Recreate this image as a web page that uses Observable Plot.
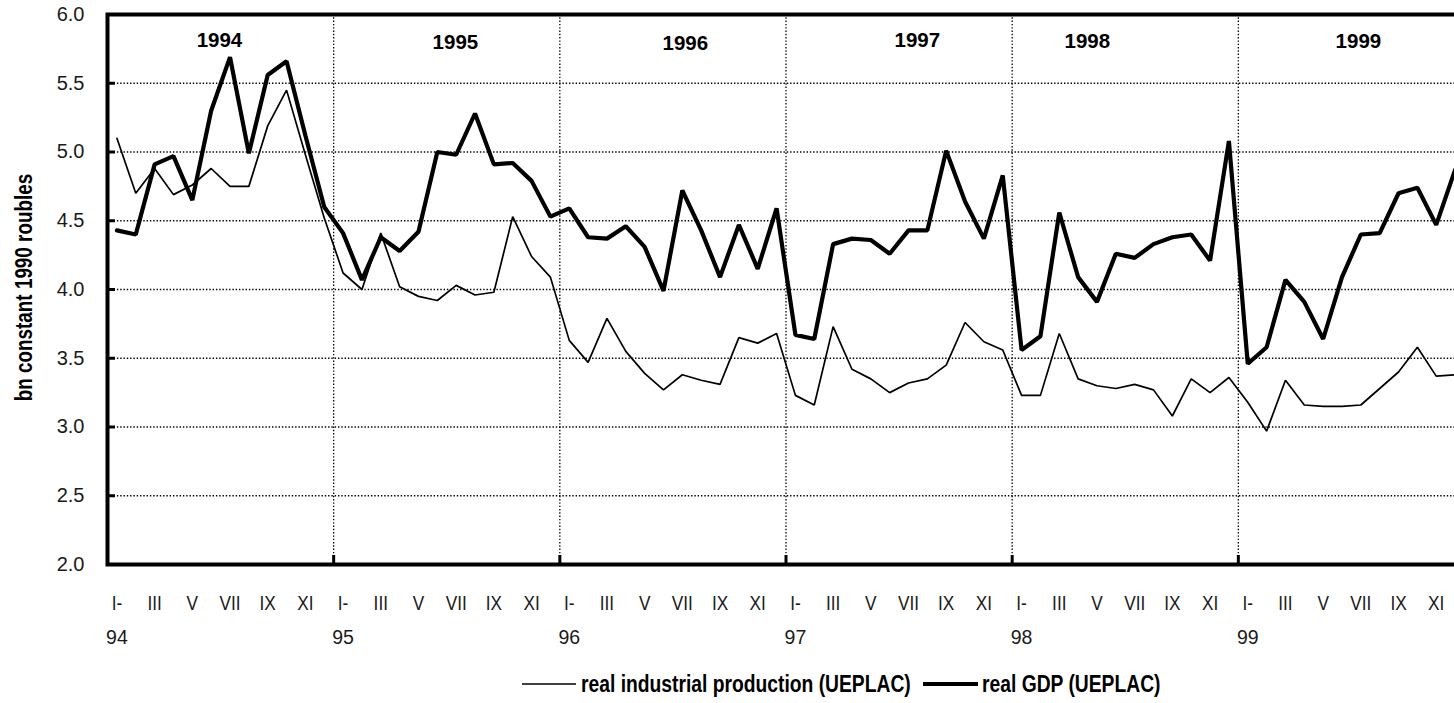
<!DOCTYPE html>
<html>
<head>
<meta charset="utf-8">
<script src="https://cdn.jsdelivr.net/npm/d3@7"></script>
<script src="https://cdn.jsdelivr.net/npm/@observablehq/plot@0.6"></script>
<style>
  html, body { margin: 0; padding: 0; background: #fff; overflow: hidden; }
  #chart svg { display: block; }
  #legend { position: relative; height: 38px; font-family: "Liberation Sans", Arial, sans-serif; font-weight: bold; font-size: 23.5px; color: #000; }
  #legend .swatch { position: absolute; top: 14px; }
  #legend .label { position: absolute; top: 0; height: 38px; line-height: 38px; white-space: nowrap; transform: scaleX(0.82); transform-origin: left center; }
</style>
</head>
<body>
<div id="chart"></div>
<div id="legend"></div>
<script>
// ---- data (monthly, Jan 1994 .. Dec 1999), bn constant 1990 roubles ----
const gdp = [
  4.43, 4.40, 4.91, 4.97, 4.65, 5.30, 5.69, 4.99, 5.56, 5.66, 5.12, 4.60,
  4.41, 4.07, 4.38, 4.28, 4.42, 5.00, 4.98, 5.28, 4.91, 4.92, 4.79, 4.53,
  4.59, 4.38, 4.37, 4.46, 4.31, 3.99, 4.72, 4.43, 4.09, 4.47, 4.15, 4.59,
  3.67, 3.64, 4.33, 4.37, 4.36, 4.26, 4.43, 4.43, 5.01, 4.64, 4.37, 4.83,
  3.56, 3.66, 4.56, 4.09, 3.91, 4.26, 4.23, 4.33, 4.38, 4.40, 4.21, 5.08,
  3.46, 3.58, 4.07, 3.91, 3.64, 4.09, 4.40, 4.41, 4.70, 4.74, 4.47, 4.87
];
const industry = [
  5.10, 4.70, 4.88, 4.69, 4.76, 4.88, 4.75, 4.75, 5.19, 5.45, 4.98, 4.52,
  4.12, 4.00, 4.41, 4.02, 3.95, 3.92, 4.03, 3.96, 3.98, 4.53, 4.24, 4.09,
  3.63, 3.47, 3.79, 3.55, 3.39, 3.27, 3.38, 3.34, 3.31, 3.65, 3.61, 3.68,
  3.23, 3.16, 3.73, 3.42, 3.35, 3.25, 3.32, 3.35, 3.45, 3.76, 3.62, 3.56,
  3.23, 3.23, 3.68, 3.35, 3.30, 3.28, 3.31, 3.27, 3.08, 3.35, 3.25, 3.36,
  3.18, 2.97, 3.34, 3.16, 3.15, 3.15, 3.16, 3.28, 3.40, 3.58, 3.37, 3.38
];
const yearNames = ["1994", "1995", "1996", "1997", "1998", "1999"];
// year-label anchors in data coordinates (month index, value)
const yearLabelMonth = [5.94, 18.46, 30.66, 42.97, 51.99, 66.37];
const yearLabelValue = [5.815, 5.80, 5.79, 5.81, 5.807, 5.807];
const yearShort = ["94", "95", "96", "97", "98", "99"];
const monthNumerals = ["I-", "III", "V", "VII", "IX", "XI"];
const yTicks = [2.0, 2.5, 3.0, 3.5, 4.0, 4.5, 5.0, 5.5, 6.0];
const yearBoundaries = [12, 24, 36, 48, 60];
const yLabel = "bn constant 1990 roubles";
const seriesNames = ["real industrial production (UEPLAC)", "real GDP (UEPLAC)"];

// ---- tables built from the arrays ----
const rows = gdp.map((v, i) => ({t: i + 0.5, gdp: v, ind: industry[i]}));
const monthRows = [];
yearShort.forEach((_, y) => monthNumerals.forEach((m, k) => monthRows.push({t: y * 12 + k * 2 + 0.5, label: m})));
const yearRows = yearShort.map((s, i) => ({t: i * 12 + 0.5, label: s}));
const yearTitleRows = yearNames.map((s, i) => ({t: yearLabelMonth[i], v: yearLabelValue[i], label: s}));

const dotted = {stroke: "#000", strokeOpacity: 1, strokeWidth: 1.3, strokeDasharray: "1.4,1.9"};

const chart = Plot.plot({
  width: 1454,
  height: 665,
  marginLeft: 107,
  marginRight: -10,
  marginTop: 14,
  marginBottom: 101,
  style: {fontFamily: "Liberation Sans, Arial, sans-serif", fontSize: "20px", color: "#000", background: "#fff"},
  x: {domain: [0, 72]},
  y: {domain: [2, 6]},
  marks: [
    Plot.gridY(yTicks.slice(1, -1), dotted),
    Plot.gridX(yearBoundaries, dotted),
    Plot.axisY(yTicks, {tickSize: 0, tickPadding: 23, tickFormat: d => d.toFixed(1), fontSize: 20, fill: "#1a1a1a", label: null}),
    Plot.axisY(yTicks, {tickSize: -8, strokeWidth: 3, tickFormat: () => "", label: null}),
    Plot.axisX(yearBoundaries, {tickSize: -9, strokeWidth: 3, tickFormat: () => "", label: null}),
    Plot.text(monthRows, {x: "t", text: "label", frameAnchor: "bottom", dy: 45, fontSize: 21, fill: "#1a1a1a", className: "condensed"}),
    Plot.text(yearRows, {x: "t", text: "label", frameAnchor: "bottom", dy: 79, fontSize: 19.5, fill: "#1a1a1a"}),
    Plot.text([yLabel], {frameAnchor: "left", rotate: -90, dx: -83, dy: -2, fontWeight: "bold", fontSize: 23, className: "condensed"}),
    Plot.text(yearTitleRows, {x: "t", y: "v", text: "label", fontWeight: "bold", fontSize: 20.5}),
    Plot.line(rows, {x: "t", y: "ind", stroke: "#000", strokeWidth: 1.7, strokeLinejoin: "miter"}),
    Plot.line(rows, {x: "t", y: "gdp", stroke: "#000", strokeWidth: 4.2, strokeLinejoin: "miter"}),
    Plot.frame({stroke: "#000", strokeWidth: 4})
  ]
});
document.getElementById("chart").appendChild(chart);

// condense text (no narrow font installed): compress glyphs horizontally, keep centred
chart.querySelectorAll(".condensed text").forEach(el => {
  const len = el.getComputedTextLength();
  if (len > 0) {
    const L = len * 0.82;
    el.setAttribute("text-anchor", "start");
    el.setAttribute("x", (-L / 2).toFixed(2));
    el.setAttribute("textLength", L.toFixed(2));
    el.setAttribute("lengthAdjust", "spacingAndGlyphs");
  }
});

// ---- legend below the chart ----
const legend = document.getElementById("legend");
const legendItems = [
  {name: seriesNames[0], width: 1.7, left: 522, len: 54, textLeft: 581},
  {name: seriesNames[1], width: 4.2, left: 923, len: 55, textLeft: 982}
];
legendItems.forEach(it => {
  const sw = document.createElementNS("http://www.w3.org/2000/svg", "svg");
  sw.setAttribute("class", "swatch");
  sw.setAttribute("width", it.len);
  sw.setAttribute("height", 10);
  sw.style.left = it.left + "px";
  sw.innerHTML = `<line x1="0" x2="${it.len}" y1="5" y2="5" stroke="#000" stroke-width="${it.width}"/>`;
  legend.appendChild(sw);
  const span = document.createElement("span");
  span.className = "label";
  span.style.left = it.textLeft + "px";
  span.textContent = it.name;
  legend.appendChild(span);
});
</script>
</body>
</html>
